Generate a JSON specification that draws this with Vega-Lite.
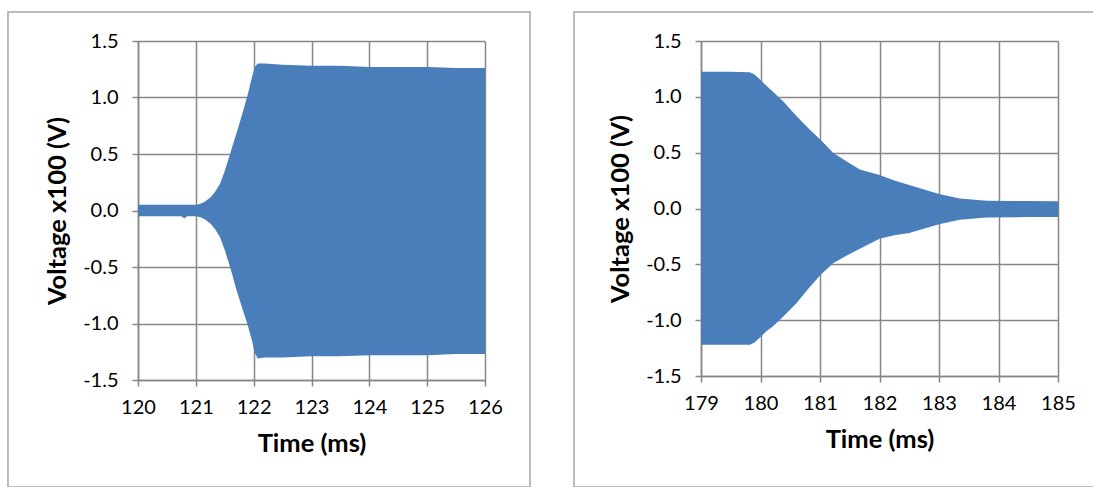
{
  "$schema": "https://vega.github.io/schema/vega-lite/v6.json",
  "padding": {"left": 7, "top": 11, "right": 0, "bottom": 0},
  "autosize": {"type": "pad"},
  "background": "white",
  "spacing": 42,
  "config": {
    "font": "Lato",
    "locale": {"number": {"decimal": ".", "thousands": ",", "grouping": [3], "currency": ["$", ""], "minus": "-"}},
    "view": {"stroke": null},
    "axis": {
      "grid": true,
      "gridColor": "#868686",
      "gridWidth": 1.5,
      "domainColor": "#868686",
      "domainWidth": 1.5,
      "tickColor": "#868686",
      "tickWidth": 1.5,
      "tickSize": 6,
      "labelFont": "Lato",
      "labelFontSize": 20,
      "labelColor": "#000000",
      "labelOverlap": false,
      "labelFlush": false,
      "titleFont": "Lato",
      "titleFontSize": 25.5,
      "titleFontWeight": "bold",
      "titleColor": "#000000"
    }
  },
  "datasets": {
    "left": [
      {"t": 120.0, "hi": 0.05, "lo": -0.05},
      {"t": 120.75, "hi": 0.05, "lo": -0.05},
      {"t": 120.8, "hi": 0.05, "lo": -0.07},
      {"t": 120.85, "hi": 0.05, "lo": -0.05},
      {"t": 121.0, "hi": 0.05, "lo": -0.05},
      {"t": 121.05, "hi": 0.055, "lo": -0.055},
      {"t": 121.1, "hi": 0.065, "lo": -0.065},
      {"t": 121.16, "hi": 0.08, "lo": -0.08},
      {"t": 121.26, "hi": 0.12, "lo": -0.12},
      {"t": 121.34, "hi": 0.17, "lo": -0.17},
      {"t": 121.42, "hi": 0.24, "lo": -0.24},
      {"t": 121.5, "hi": 0.35, "lo": -0.35},
      {"t": 121.61, "hi": 0.53, "lo": -0.53},
      {"t": 121.7, "hi": 0.68, "lo": -0.7},
      {"t": 121.8, "hi": 0.85, "lo": -0.86},
      {"t": 121.9, "hi": 1.03, "lo": -1.02},
      {"t": 121.97, "hi": 1.18, "lo": -1.15},
      {"t": 122.02, "hi": 1.27, "lo": -1.26},
      {"t": 122.07, "hi": 1.3, "lo": -1.31},
      {"t": 122.2, "hi": 1.3, "lo": -1.3},
      {"t": 122.5, "hi": 1.29, "lo": -1.3},
      {"t": 123.0, "hi": 1.28, "lo": -1.29},
      {"t": 123.5, "hi": 1.28, "lo": -1.29},
      {"t": 124.0, "hi": 1.27, "lo": -1.28},
      {"t": 124.5, "hi": 1.27, "lo": -1.28},
      {"t": 125.0, "hi": 1.27, "lo": -1.28},
      {"t": 125.5, "hi": 1.26, "lo": -1.27},
      {"t": 126.0, "hi": 1.26, "lo": -1.27}
    ],
    "right": [
      {"t": 179.0, "hi": 1.225, "lo": -1.22},
      {"t": 179.5, "hi": 1.225, "lo": -1.22},
      {"t": 179.82, "hi": 1.22, "lo": -1.22},
      {"t": 179.9, "hi": 1.2, "lo": -1.2},
      {"t": 180.0, "hi": 1.15, "lo": -1.15},
      {"t": 180.1, "hi": 1.1, "lo": -1.1},
      {"t": 180.2, "hi": 1.05, "lo": -1.06},
      {"t": 180.38, "hi": 0.96, "lo": -0.97},
      {"t": 180.6, "hi": 0.83, "lo": -0.85},
      {"t": 180.8, "hi": 0.72, "lo": -0.72},
      {"t": 181.0, "hi": 0.62, "lo": -0.6},
      {"t": 181.22, "hi": 0.5, "lo": -0.49},
      {"t": 181.45, "hi": 0.42, "lo": -0.42},
      {"t": 181.67, "hi": 0.35, "lo": -0.36},
      {"t": 182.0, "hi": 0.3, "lo": -0.27},
      {"t": 182.25, "hi": 0.25, "lo": -0.24},
      {"t": 182.5, "hi": 0.21, "lo": -0.22},
      {"t": 183.0, "hi": 0.13, "lo": -0.14},
      {"t": 183.35, "hi": 0.09, "lo": -0.1},
      {"t": 183.8, "hi": 0.07, "lo": -0.08},
      {"t": 184.5, "hi": 0.067, "lo": -0.077},
      {"t": 185.0, "hi": 0.066, "lo": -0.076}
    ]
  },
  "hconcat": [
    {
      "width": 347,
      "height": 339,
      "layer": [
        {
          "data": {"values": [{}]},
          "mark": {"type": "rect", "fill": "transparent", "stroke": "#a6a6a6", "strokeWidth": 1.5},
          "encoding": {
            "x": {"datum": 117.752, "type": "quantitative"},
            "x2": {"datum": 126.778},
            "y": {"datum": 1.7566, "type": "quantitative"},
            "y2": {"datum": -2.447}
          }
        },
        {
          "data": {"name": "left"},
          "mark": {"type": "area", "color": "#4a7ebb", "opacity": 1},
          "encoding": {
            "x": {
              "field": "t", "type": "quantitative",
              "scale": {"domain": [120, 126], "nice": false, "zero": false},
              "axis": {"values": [120, 121, 122, 123, 124, 125, 126], "format": "d", "title": "Time (ms)", "labelPadding": 11, "titlePadding": 14}
            },
            "y": {
              "field": "hi", "type": "quantitative",
              "scale": {"domain": [-1.5, 1.5], "nice": false, "zero": false},
              "axis": {"values": [-1.5, -1, -0.5, 0, 0.5, 1, 1.5], "format": ".1f", "title": "Voltage x100 (V)", "labelPadding": 14, "titlePadding": 12}
            },
            "y2": {"field": "lo"}
          }
        }
      ]
    },
    {
      "width": 357,
      "height": 335,
      "layer": [
        {
          "data": {"values": [{}]},
          "mark": {"type": "rect", "fill": "transparent", "stroke": "#a6a6a6", "strokeWidth": 1.5},
          "encoding": {
            "x": {"datum": 176.866, "type": "quantitative"},
            "x2": {"datum": 185.672},
            "y": {"datum": 1.7597, "type": "quantitative"},
            "y2": {"datum": -2.494}
          }
        },
        {
          "data": {"name": "right"},
          "mark": {"type": "area", "color": "#4a7ebb", "opacity": 1},
          "encoding": {
            "x": {
              "field": "t", "type": "quantitative",
              "scale": {"domain": [179, 185], "nice": false, "zero": false},
              "axis": {"values": [179, 180, 181, 182, 183, 184, 185], "format": "d", "title": "Time (ms)", "labelPadding": 11, "titlePadding": 14}
            },
            "y": {
              "field": "hi", "type": "quantitative",
              "scale": {"domain": [-1.5, 1.5], "nice": false, "zero": false},
              "axis": {"values": [-1.5, -1, -0.5, 0, 0.5, 1, 1.5], "format": ".1f", "title": "Voltage x100 (V)", "labelPadding": 14, "titlePadding": 12}
            },
            "y2": {"field": "lo"}
          }
        }
      ]
    }
  ]
}
